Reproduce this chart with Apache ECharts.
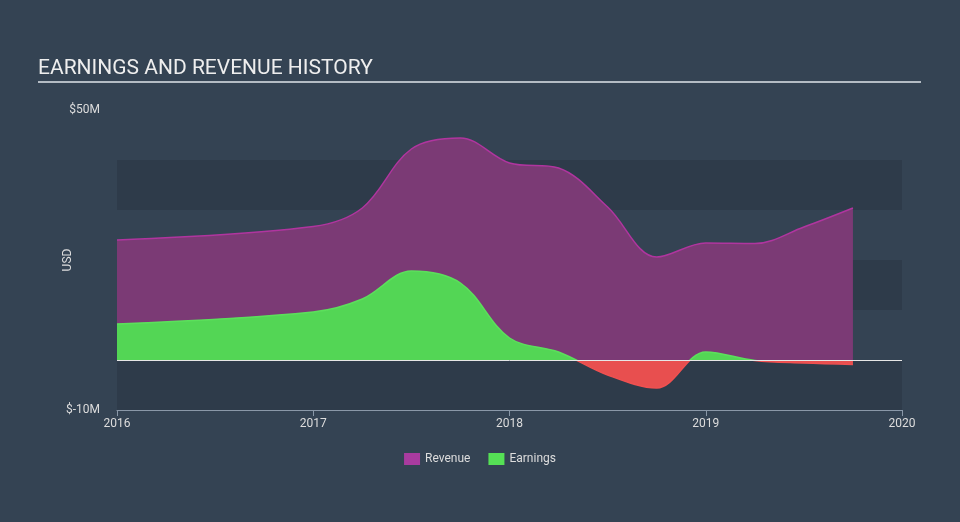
<!DOCTYPE html>
<html>
<head>
<meta charset="utf-8">
<script src="https://cdn.jsdelivr.net/npm/echarts@6/dist/echarts.min.js"></script>
<style>
html,body{margin:0;padding:0;background:#344353;}
#c{width:960px;height:522px;}
</style>
</head>
<body>
<div id="c"></div>
<script>
const years = [2016.0, 2017.0, 2017.25, 2017.5, 2017.75, 2018.0, 2018.25, 2018.5, 2018.75, 2019.0, 2019.25, 2019.5, 2019.75];
const revenue = [24.0, 26.7, 30.4, 42.2, 44.4, 39.4, 38.4, 30.6, 20.6, 23.4, 23.3, 26.6, 30.4];
const earnings = [7.2, 9.6, 12.2, 17.8, 15.4, 4.4, 1.6, -3.0, -5.6, 1.6, -0.1, -0.6, -0.9];
const xTicks = [2016, 2017, 2018, 2019, 2020];
const yTickLabels = {"50": "$50M", "-10": "$-10M"};

const revData = years.map((y, i) => [y, revenue[i]]);
const earnData = years.map((y, i) => [y, earnings[i]]);

const GRID_TOP = 110, GRID_BOTTOM = 410;
const zeroStop = 50 / 60;
function posNeg(pos, neg) {
  return new echarts.graphic.LinearGradient(0, GRID_TOP, 0, GRID_BOTTOM, [
    {offset: 0, color: pos}, {offset: zeroStop, color: pos},
    {offset: zeroStop, color: neg}, {offset: 1, color: neg}
  ], true);
}

const chart = echarts.init(document.getElementById('c'));
chart.setOption({
  backgroundColor: '#344353',
  animation: false,
  title: {
    text: 'EARNINGS AND REVENUE HISTORY',
    left: 33, top: 53,
    textStyle: {color: '#eeeeee', fontSize: 21, fontWeight: 'normal', fontFamily: 'Roboto'}
  },
  graphic: [{
    type: 'line', shape: {x1: 38, y1: 82, x2: 921, y2: 82},
    style: {stroke: '#b4bcc4', lineWidth: 2}
  }],
  grid: {left: 117, right: 58, top: 110, bottom: 112},
  legend: {
    bottom: 52, left: 'center',
    itemWidth: 16, itemHeight: 12, itemGap: 18, icon: 'rect',
    textStyle: {color: '#dddddd', fontSize: 12, fontFamily: 'Roboto'},
    data: [
      {name: 'Revenue', itemStyle: {color: '#a93b9f'}},
      {name: 'Earnings', itemStyle: {color: '#55e055'}}
    ]
  },
  xAxis: {
    type: 'value', min: 2016, max: 2020, interval: 1,
    axisLine: {show: true, lineStyle: {color: '#8a98a8', width: 1}, onZero: false},
    axisTick: {show: true, length: 6, lineStyle: {color: '#8a98a8'}},
    axisLabel: {color: '#dddddd', fontSize: 12, fontFamily: 'Roboto', margin: 8,
      formatter: v => xTicks.includes(v) ? String(v) : ''},
    splitLine: {show: false}
  },
  yAxis: {
    type: 'value', min: -10, max: 50, interval: 10,
    name: 'USD', nameLocation: 'middle', nameGap: 43, nameRotate: 90,
    nameMoveOverlap: false,
    nameTextStyle: {color: '#dddddd', fontSize: 12, fontFamily: 'Roboto'},
    axisLine: {show: false}, axisTick: {show: false},
    axisLabel: {color: '#dddddd', fontSize: 12, fontFamily: 'Roboto', margin: 17,
      formatter: v => yTickLabels[String(v)] || ''},
    splitLine: {show: false},
    splitArea: {show: true, areaStyle: {color: ['#2e3b4a', 'rgba(0,0,0,0)']}}
  },
  series: [
    {
      name: 'Revenue', type: 'line', data: revData,
      smooth: 0.35, showSymbol: false,
      lineStyle: {color: '#b0359f', width: 1.5},
      itemStyle: {color: '#a93b9f'},
      areaStyle: {color: '#7b3a75', opacity: 1},
      z: 2,
      markLine: {
        silent: true, symbol: 'none', label: {show: false},
        lineStyle: {color: '#e6e6e6', width: 1, type: 'solid'},
        data: [{yAxis: 0}]
      }
    },
    {
      name: 'Earnings', type: 'line', data: earnData,
      smooth: 0.35, showSymbol: false,
      lineStyle: {width: 1.5, color: posNeg('#5be05b', '#f05050')},
      itemStyle: {color: '#55e055'},
      areaStyle: {opacity: 1, color: posNeg('#53d655', '#e84f4f')},
      z: 3
    }
  ]
});
</script>
</body>
</html>
